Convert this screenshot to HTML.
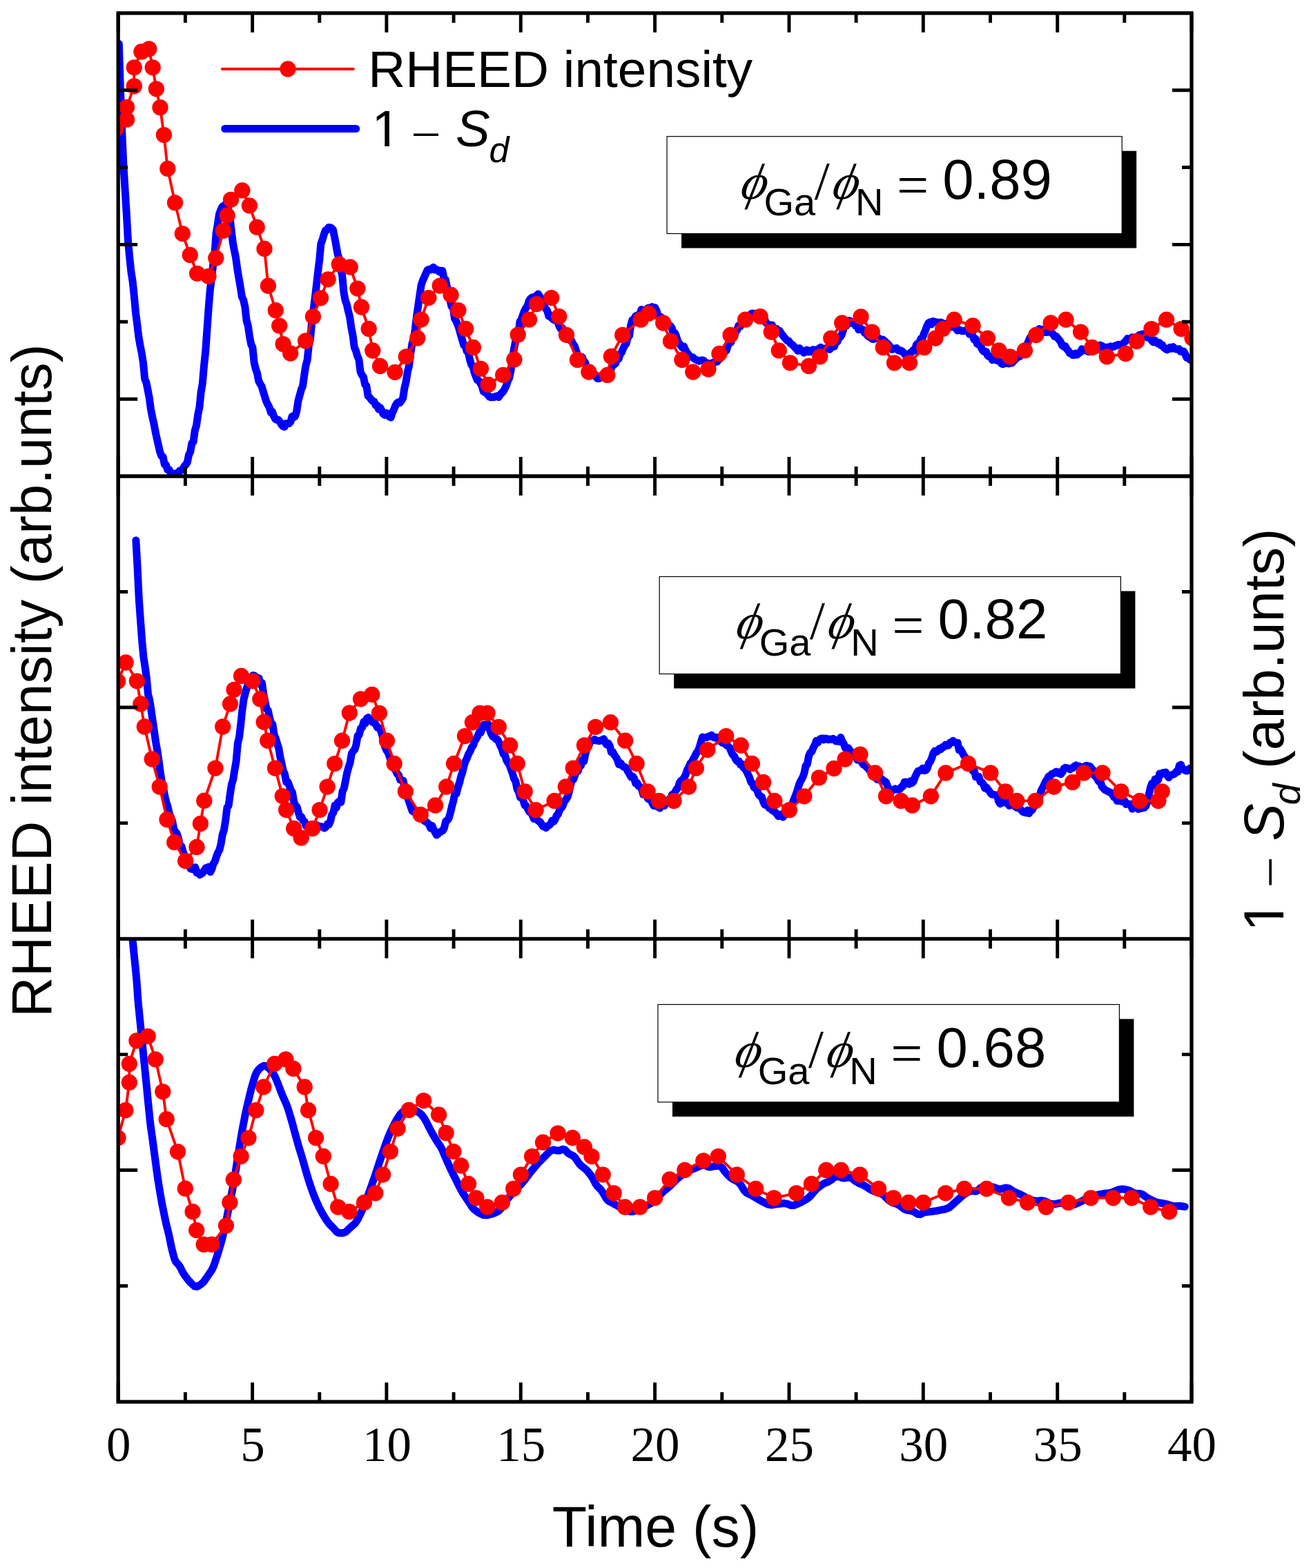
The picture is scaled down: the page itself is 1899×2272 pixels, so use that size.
<!DOCTYPE html>
<html lang="en"><head><meta charset="utf-8"><title>RHEED intensity oscillations</title>
<style>html,body{margin:0;padding:0;background:#fff}body{width:1899px;height:2272px;overflow:hidden}svg{display:block}.sans{font-family:"Liberation Sans",sans-serif}.serif{font-family:"Liberation Serif",serif}.it{font-style:italic}</style></head><body>
<svg width="1899" height="2272" viewBox="0 0 1899 2272">
<rect width="1899" height="2272" fill="#fff"/>
<defs>
<clipPath id="c1"><rect x="171.2" y="19" width="1554.8" height="671"/></clipPath>
<clipPath id="c2"><rect x="171.2" y="690" width="1554.8" height="670.4"/></clipPath>
<clipPath id="c3"><rect x="171.2" y="1360.4" width="1554.8" height="670.8"/></clipPath>
<clipPath id="k1"><rect x="533.6" y="137.5" width="62.4" height="67.9"/><rect x="557.3" y="204.9" width="6.8" height="9.6"/></clipPath>
<clipPath id="k2"><rect x="0.2" y="-81.5" width="67" height="74.1"/><rect x="25.6" y="-7.9" width="7.4" height="10.1"/></clipPath>
</defs>
<g clip-path="url(#c1)">
<polyline points="172.3,63.5 174.5,132.7 176.7,189.5 178.9,239.4 181.1,274.8 183.3,309.8 185.5,349.5 187.7,372.6 189.9,393.7 192.1,407.6 194.3,428.5 196.5,453 198.7,469.8 200.9,488.3 203.1,501 205.3,511.8 207.5,525.8 209.7,549.1 211.9,554.2 214.1,565.2 216.3,576.7 218.5,593.1 220.7,604.2 222.9,613.7 225.1,625.5 227.3,635.7 229.5,645.3 231.7,654.9 233.9,660.7 236.1,661.8 238.3,672.8 240.5,673.6 242.7,680.5 244.9,680.4 247.1,684.8 249.3,685.5 251.5,687.9 253.7,689.8 255.9,685.6 258.1,685.8 260.3,681.8 262.5,681.4 264.7,680 266.9,675.6 269.1,673.4 271.3,669.8 273.5,659.2 275.7,654.7 277.9,642 280.1,640.2 282.3,623.8 284.5,616.7 286.7,600.9 288.9,590.4 291.1,568.5 293.3,555.9 295.5,530 297.7,509.3 299.9,477.8 302.1,446.8 304.3,420.1 306.5,403.6 308.7,383.7 310.9,368.5 313.1,338 315.3,325.1 317.5,310.4 319.7,304.3 321.9,299.6 324.1,298.2 326.3,296.3 328.5,298.4 330.7,303.7 332.9,315.2 335.1,333.3 337.3,351.6 339.5,363.3 341.7,374.2 343.9,390.4 346.1,403.6 348.3,416.3 350.5,430.4 352.7,434.8 354.9,444.8 357.1,464.4 359.3,471.9 361.5,487.6 363.7,498.8 365.9,503.5 368.1,524.9 370.3,534.5 372.5,540.5 374.7,551.9 376.9,556.4 379.1,559.9 381.3,567.5 383.5,574.5 385.7,581.6 387.9,586.1 390.1,590.2 392.3,597.3 394.5,596.9 396.7,603.3 398.9,607.5 401.1,608.4 403.3,608.2 405.5,611.6 407.7,615.3 409.9,617.7 412.1,618.5 414.3,613.6 416.5,613.9 418.7,613.6 420.9,611.3 423.1,603.2 425.3,604.8 427.5,603.2 429.7,596 431.9,581 434.1,573 436.3,564.6 438.5,559.8 440.7,543.9 442.9,529.7 445.1,521.6 447.3,501 449.5,491.3 451.7,466 453.9,450.3 456.1,433.3 458.3,414 460.5,394.5 462.7,376.6 464.9,353 467.1,347.3 469.3,339.6 471.5,333.6 473.7,333.3 475.9,329.6 478.1,329.4 480.3,330.4 482.5,333.2 484.7,344 486.9,355.7 489.1,368.1 491.3,375 493.5,389 495.7,399.2 497.9,423 500.1,435.1 502.3,441 504.5,451 506.7,459.6 508.9,475 511.1,486.1 513.3,503.3 515.5,508.2 517.7,516 519.9,521 522.1,538.7 524.3,543.6 526.5,546.3 528.7,557.1 530.9,559.4 533.1,573.8 535.3,575.7 537.5,578.6 539.7,581.1 541.9,581.8 544.1,587.3 546.3,587.2 548.5,592.9 550.7,590.6 552.9,594.8 555.1,599.7 557.3,601.4 559.5,598.5 561.7,599.2 563.9,603.8 566.1,605 568.3,598.3 570.5,593.5 572.7,588.1 574.9,584.1 577.1,582.7 579.3,583.6 581.5,580.5 583.7,576.9 585.9,562.2 588.1,553.3 590.3,539.3 592.5,530.1 594.7,512.8 596.9,498 599.1,491.4 601.3,477.5 603.5,458.6 605.7,443.4 607.9,428.2 610.1,413.3 612.3,406.6 614.5,401.9 616.7,396.7 618.9,391.7 621.1,390.3 623.3,391 625.5,389.6 627.7,387.2 629.9,391 632.1,390.3 634.3,391.9 636.5,393.9 638.7,392.1 640.9,392.5 643.1,403.3 645.3,405.2 647.5,415.6 649.7,422.9 651.9,435.2 654.1,444.1 656.3,445 658.5,461.5 660.7,465 662.9,470.3 665.1,476.5 667.3,484.7 669.5,492.3 671.7,500 673.9,500.8 676.1,508.7 678.3,510.7 680.5,520.9 682.7,528.3 684.9,531.2 687.1,539.6 689.3,545.6 691.5,551 693.7,551.5 695.9,555.4 698.1,559.5 700.3,567.3 702.5,568.8 704.7,569.4 706.9,572.6 709.1,575 711.3,575.7 713.5,575.4 715.7,575.5 717.9,574.5 720.1,573.7 722.3,575.5 724.5,572 726.7,569.5 728.9,567.3 731.1,563.4 733.3,559 735.5,552 737.7,547.9 739.9,537.1 742.1,521.6 744.3,507.1 746.5,495.8 748.7,486.7 750.9,483.2 753.1,465.8 755.3,462.6 757.5,456 759.7,450.2 761.9,446.2 764.1,443.2 766.3,435.9 768.5,432.7 770.7,431 772.9,430.6 775.1,431 777.3,428 779.5,426 781.7,429.3 783.9,433.1 786.1,436.2 788.3,444.3 790.5,447.1 792.7,450.3 794.9,458.1 797.1,456.5 799.3,461 801.5,463.2 803.7,461.6 805.9,463.8 808.1,467.2 810.3,473.2 812.5,476.8 814.7,475.3 816.9,482.1 819.1,482.5 821.3,485.9 823.5,489.1 825.7,492.9 827.9,493.6 830.1,498.6 832.3,501.6 834.5,508.1 836.7,514.5 838.9,518.1 841.1,516.7 843.3,517.4 845.5,523 847.7,525.2 849.9,533.6 852.1,534.1 854.3,534.9 856.5,540.9 858.7,543.1 860.9,541.8 863.1,545.8 865.3,548.5 867.5,548.5 869.7,547.4 871.9,545.4 874.1,544.9 876.3,542.5 878.5,539.9 880.7,541.5 882.9,537.3 885.1,535 887.3,529.3 889.5,528.4 891.7,526.7 893.9,519.4 896.1,520.1 898.3,513.1 900.5,510.5 902.7,505 904.9,500.8 907.1,497.9 909.3,489.6 911.5,486.6 913.7,471.4 915.9,463.8 918.1,464 920.3,458.4 922.5,457 924.7,456.5 926.9,454.5 929.1,448.4 931.3,450.7 933.5,451.7 935.7,449.7 937.9,446.7 940.1,445.9 942.3,446 944.5,444.6 946.7,445.5 948.9,445.8 951.1,450.3 953.3,457.4 955.5,458.9 957.7,459.3 959.9,465.6 962.1,464.4 964.3,467.5 966.5,469.8 968.7,471.2 970.9,472 973.1,474.9 975.3,483.5 977.5,482.3 979.7,487.7 981.9,494.6 984.1,497.7 986.3,500.8 988.5,504 990.7,502.1 992.9,507.1 995.1,511.1 997.3,513.5 999.5,516.7 1001.7,517.3 1003.9,518 1006.1,520.3 1008.3,521.3 1010.5,522.2 1012.7,523.2 1014.9,522.2 1017.1,521.9 1019.3,522.3 1021.5,525.4 1023.7,526.2 1025.9,526.3 1028.1,526.7 1030.3,527 1032.5,525.5 1034.7,525.9 1036.9,523.1 1039.1,523.8 1041.3,519.9 1043.5,519.5 1045.7,514.1 1047.9,511.9 1050.1,509.5 1052.3,507.8 1054.5,500.4 1056.7,496.7 1058.9,496.1 1061.1,488.4 1063.3,487.3 1065.5,481.3 1067.7,478.2 1069.9,471.6 1072.1,473.2 1074.3,468.3 1076.5,464.9 1078.7,467.2 1080.9,462.4 1083.1,462.8 1085.3,458.2 1087.5,455.2 1089.7,454 1091.9,455.4 1094.1,454.4 1096.3,456.5 1098.5,457.9 1100.7,457.2 1102.9,460.1 1105.1,461.2 1107.3,462.1 1109.5,467.6 1111.7,469.4 1113.9,470.6 1116.1,471 1118.3,471.1 1120.5,476.7 1122.7,477.2 1124.9,476.3 1127.1,480.2 1129.3,479.4 1131.5,483.1 1133.7,485.7 1135.9,488.7 1138.1,491 1140.3,493.6 1142.5,493.9 1144.7,497.5 1146.9,498.9 1149.1,500.9 1151.3,503.2 1153.5,505.3 1155.7,508.4 1157.9,504.6 1160.1,508.3 1162.3,507.9 1164.5,511.3 1166.7,510 1168.9,506.9 1171.1,509.9 1173.3,508.4 1175.5,509.9 1177.7,506.6 1179.9,507.4 1182.1,506.8 1184.3,506.3 1186.5,505 1188.7,503.2 1190.9,506.1 1193.1,506.7 1195.3,505.4 1197.5,504.2 1199.7,505.8 1201.9,506.3 1204.1,503.3 1206.3,501.7 1208.5,502.1 1210.7,496.3 1212.9,495.3 1215.1,489.6 1217.3,488.2 1219.5,484.4 1221.7,477.4 1223.9,471.6 1226.1,471.8 1228.3,466.5 1230.5,464.6 1232.7,468.2 1234.9,466.7 1237.1,466.2 1239.3,471.9 1241.5,471.9 1243.7,477.7 1245.9,474.9 1248.1,477.6 1250.3,477.7 1252.5,482.6 1254.7,483 1256.9,486.7 1259.1,488.4 1261.3,488.9 1263.5,491.2 1265.7,491.4 1267.9,490.5 1270.1,489.5 1272.3,489.5 1274.5,491.5 1276.7,494.2 1278.9,492.1 1281.1,493.8 1283.3,496.1 1285.5,497.7 1287.7,500.1 1289.9,503.4 1292.1,506.3 1294.3,505.1 1296.5,505.1 1298.7,504.3 1300.9,507.6 1303.1,508.4 1305.3,508 1307.5,509.5 1309.7,512.4 1311.9,514.8 1314.1,513.7 1316.3,512.6 1318.5,511.3 1320.7,510.4 1322.9,507.1 1325.1,508.1 1327.3,499.7 1329.5,497.5 1331.7,497 1333.9,490.6 1336.1,490.2 1338.3,483.3 1340.5,478.6 1342.7,472.4 1344.9,468.1 1347.1,466.8 1349.3,469.9 1351.5,465.5 1353.7,466 1355.9,467 1358.1,467.1 1360.3,468.2 1362.5,467 1364.7,467.8 1366.9,470.3 1369.1,469.3 1371.3,468.7 1373.5,471.1 1375.7,471.5 1377.9,473.9 1380.1,472.9 1382.3,473.4 1384.5,475.3 1386.7,478.9 1388.9,477.6 1391.1,478.8 1393.3,479.5 1395.5,479.3 1397.7,479.5 1399.9,479.5 1402.1,477 1404.3,484.1 1406.5,484 1408.7,485.7 1410.9,492 1413.1,490.8 1415.3,498 1417.5,499.5 1419.7,499.2 1421.9,505 1424.1,508.5 1426.3,510.1 1428.5,509.5 1430.7,515.4 1432.9,516.7 1435.1,516.4 1437.3,521.7 1439.5,519.9 1441.7,520.7 1443.9,522.2 1446.1,522.8 1448.3,524.1 1450.5,526.7 1452.7,527.7 1454.9,526.4 1457.1,526.6 1459.3,524.7 1461.5,526.9 1463.7,524.9 1465.9,525.9 1468.1,523.4 1470.3,521.1 1472.5,519.3 1474.7,513.8 1476.9,516.8 1479.1,509.8 1481.3,506.3 1483.5,501.7 1485.7,502.6 1487.9,498.8 1490.1,493.6 1492.3,488.7 1494.5,487.9 1496.7,487.5 1498.9,483.5 1501.1,480.2 1503.3,478.1 1505.5,476.5 1507.7,477.9 1509.9,477.3 1512.1,478.5 1514.3,481.6 1516.5,481.4 1518.7,478 1520.9,481 1523.1,482.4 1525.3,483.8 1527.5,487.4 1529.7,487.1 1531.9,489.7 1534.1,492.3 1536.3,495.4 1538.5,500.4 1540.7,502.2 1542.9,501.3 1545.1,505.6 1547.3,507.8 1549.5,511.8 1551.7,512.3 1553.9,514.6 1556.1,514.5 1558.3,512 1560.5,513.9 1562.7,511.7 1564.9,510.4 1567.1,505.8 1569.3,507.9 1571.5,507.3 1573.7,507.6 1575.9,509.4 1578.1,509.7 1580.3,507.9 1582.5,505.7 1584.7,504.1 1586.9,505.4 1589.1,506.8 1591.3,504.1 1593.5,500.1 1595.7,501 1597.9,502.1 1600.1,504.1 1602.3,503.7 1604.5,503 1606.7,503.1 1608.9,501.8 1611.1,502.9 1613.3,502.2 1615.5,500.7 1617.7,500.9 1619.9,499.3 1622.1,499.4 1624.3,500 1626.5,497.9 1628.7,496.1 1630.9,493.8 1633.1,490.6 1635.3,491.3 1637.5,491.6 1639.7,488.8 1641.9,491.2 1644.1,488.4 1646.3,488.7 1648.5,487.1 1650.7,485.2 1652.9,489 1655.1,484 1657.3,487.8 1659.5,486.8 1661.7,489.1 1663.9,488.7 1666.1,490.3 1668.3,493.4 1670.5,495.9 1672.7,493 1674.9,495.4 1677.1,497.8 1679.3,496.6 1681.5,500.4 1683.7,499.9 1685.9,503.8 1688.1,505.3 1690.3,506.9 1692.5,505.5 1694.7,503.2 1696.9,505.3 1699.1,502.6 1701.3,504.7 1703.5,506 1705.7,505.9 1707.9,505.6 1710.1,509.5 1712.3,509.3 1714.5,509 1716.7,512.8 1718.9,518.2 1721.1,517.7 1723.3,520.8 1724,521.4" fill="none" stroke="#0000ff" stroke-width="11" stroke-linejoin="round" stroke-linecap="round"/>
<polyline points="167.6,187 183.5,173.2 183.5,155.3 194.3,124.8 194.3,97.8 204.9,74.9 215.8,70.9 221.2,97.8 226.4,128.8 232,155.7 237.4,195.6 242.8,244.4 253.5,293.7 264.3,338.6 275.3,369.5 285.6,396.3 302,400.3 312.8,374 323.5,334.2 329.1,312.2 334.5,289.3 350.9,275.9 361.4,297.9 372.2,329.2 383,360.4 388.4,414.2 399.3,449.7 404.7,472.1 410.1,498.6 420.7,512 442.6,494 453.4,458.7 464.5,431.8 475.1,404.8 491.2,383 507.2,387 517.9,418.1 523.5,445 534.2,476.5 539.8,508 550.6,530.4 572.1,539.3 588.3,516.8 604.7,489.9 610,463.1 620.8,431.6 637.2,414.1 653.1,427.2 663.9,449.6 674.7,476.5 685.4,503.4 696.4,534.3 707.2,557.3 728.7,543.3 744.9,521 750.2,485.1 766.6,463.1 777.4,440.6 798.7,431.6 809.8,458.6 820.5,485.3 836.5,521.4 852.9,539 879.8,543.4 885.4,516.4 901.7,485.5 928.2,463.2 939.6,454.2 960.7,468 971.5,494.5 987.9,521.4 1003.8,539 1026,535 1041.9,512.5 1058.1,485.5 1079.6,463.2 1101.2,458.6 1117.3,481.1 1128.3,507.9 1144.5,525.8 1171.5,530.4 1187.8,516.8 1203.8,490.1 1219.7,468 1247,459 1263.2,481.1 1279.2,503.5 1295.5,525.8 1317.4,525.8 1338.8,503.5 1354.9,490.1 1365.7,476.6 1382.1,463.2 1409.1,472 1430.4,490.1 1446.9,507.9 1463,516.8 1484.4,507.9 1500.7,485.5 1522.1,468 1544,463.2 1565.5,481.1 1581.9,503.5 1603.4,516.8 1630.4,512.5 1646.5,494.5 1667.9,476.6 1689.6,463.2 1711.1,476.6 1727,490" fill="none" stroke="#ff0000" stroke-width="3.9" stroke-linejoin="round"/>
<g fill="#ff0000"><circle cx="167.6" cy="187" r="11.65"/><circle cx="183.5" cy="173.2" r="11.65"/><circle cx="183.5" cy="155.3" r="11.65"/><circle cx="194.3" cy="124.8" r="11.65"/><circle cx="194.3" cy="97.8" r="11.65"/><circle cx="204.9" cy="74.9" r="11.65"/><circle cx="215.8" cy="70.9" r="11.65"/><circle cx="221.2" cy="97.8" r="11.65"/><circle cx="226.4" cy="128.8" r="11.65"/><circle cx="232" cy="155.7" r="11.65"/><circle cx="237.4" cy="195.6" r="11.65"/><circle cx="242.8" cy="244.4" r="11.65"/><circle cx="253.5" cy="293.7" r="11.65"/><circle cx="264.3" cy="338.6" r="11.65"/><circle cx="275.3" cy="369.5" r="11.65"/><circle cx="285.6" cy="396.3" r="11.65"/><circle cx="302" cy="400.3" r="11.65"/><circle cx="312.8" cy="374" r="11.65"/><circle cx="323.5" cy="334.2" r="11.65"/><circle cx="329.1" cy="312.2" r="11.65"/><circle cx="334.5" cy="289.3" r="11.65"/><circle cx="350.9" cy="275.9" r="11.65"/><circle cx="361.4" cy="297.9" r="11.65"/><circle cx="372.2" cy="329.2" r="11.65"/><circle cx="383" cy="360.4" r="11.65"/><circle cx="388.4" cy="414.2" r="11.65"/><circle cx="399.3" cy="449.7" r="11.65"/><circle cx="404.7" cy="472.1" r="11.65"/><circle cx="410.1" cy="498.6" r="11.65"/><circle cx="420.7" cy="512" r="11.65"/><circle cx="442.6" cy="494" r="11.65"/><circle cx="453.4" cy="458.7" r="11.65"/><circle cx="464.5" cy="431.8" r="11.65"/><circle cx="475.1" cy="404.8" r="11.65"/><circle cx="491.2" cy="383" r="11.65"/><circle cx="507.2" cy="387" r="11.65"/><circle cx="517.9" cy="418.1" r="11.65"/><circle cx="523.5" cy="445" r="11.65"/><circle cx="534.2" cy="476.5" r="11.65"/><circle cx="539.8" cy="508" r="11.65"/><circle cx="550.6" cy="530.4" r="11.65"/><circle cx="572.1" cy="539.3" r="11.65"/><circle cx="588.3" cy="516.8" r="11.65"/><circle cx="604.7" cy="489.9" r="11.65"/><circle cx="610" cy="463.1" r="11.65"/><circle cx="620.8" cy="431.6" r="11.65"/><circle cx="637.2" cy="414.1" r="11.65"/><circle cx="653.1" cy="427.2" r="11.65"/><circle cx="663.9" cy="449.6" r="11.65"/><circle cx="674.7" cy="476.5" r="11.65"/><circle cx="685.4" cy="503.4" r="11.65"/><circle cx="696.4" cy="534.3" r="11.65"/><circle cx="707.2" cy="557.3" r="11.65"/><circle cx="728.7" cy="543.3" r="11.65"/><circle cx="744.9" cy="521" r="11.65"/><circle cx="750.2" cy="485.1" r="11.65"/><circle cx="766.6" cy="463.1" r="11.65"/><circle cx="777.4" cy="440.6" r="11.65"/><circle cx="798.7" cy="431.6" r="11.65"/><circle cx="809.8" cy="458.6" r="11.65"/><circle cx="820.5" cy="485.3" r="11.65"/><circle cx="836.5" cy="521.4" r="11.65"/><circle cx="852.9" cy="539" r="11.65"/><circle cx="879.8" cy="543.4" r="11.65"/><circle cx="885.4" cy="516.4" r="11.65"/><circle cx="901.7" cy="485.5" r="11.65"/><circle cx="928.2" cy="463.2" r="11.65"/><circle cx="939.6" cy="454.2" r="11.65"/><circle cx="960.7" cy="468" r="11.65"/><circle cx="971.5" cy="494.5" r="11.65"/><circle cx="987.9" cy="521.4" r="11.65"/><circle cx="1003.8" cy="539" r="11.65"/><circle cx="1026" cy="535" r="11.65"/><circle cx="1041.9" cy="512.5" r="11.65"/><circle cx="1058.1" cy="485.5" r="11.65"/><circle cx="1079.6" cy="463.2" r="11.65"/><circle cx="1101.2" cy="458.6" r="11.65"/><circle cx="1117.3" cy="481.1" r="11.65"/><circle cx="1128.3" cy="507.9" r="11.65"/><circle cx="1144.5" cy="525.8" r="11.65"/><circle cx="1171.5" cy="530.4" r="11.65"/><circle cx="1187.8" cy="516.8" r="11.65"/><circle cx="1203.8" cy="490.1" r="11.65"/><circle cx="1219.7" cy="468" r="11.65"/><circle cx="1247" cy="459" r="11.65"/><circle cx="1263.2" cy="481.1" r="11.65"/><circle cx="1279.2" cy="503.5" r="11.65"/><circle cx="1295.5" cy="525.8" r="11.65"/><circle cx="1317.4" cy="525.8" r="11.65"/><circle cx="1338.8" cy="503.5" r="11.65"/><circle cx="1354.9" cy="490.1" r="11.65"/><circle cx="1365.7" cy="476.6" r="11.65"/><circle cx="1382.1" cy="463.2" r="11.65"/><circle cx="1409.1" cy="472" r="11.65"/><circle cx="1430.4" cy="490.1" r="11.65"/><circle cx="1446.9" cy="507.9" r="11.65"/><circle cx="1463" cy="516.8" r="11.65"/><circle cx="1484.4" cy="507.9" r="11.65"/><circle cx="1500.7" cy="485.5" r="11.65"/><circle cx="1522.1" cy="468" r="11.65"/><circle cx="1544" cy="463.2" r="11.65"/><circle cx="1565.5" cy="481.1" r="11.65"/><circle cx="1581.9" cy="503.5" r="11.65"/><circle cx="1603.4" cy="516.8" r="11.65"/><circle cx="1630.4" cy="512.5" r="11.65"/><circle cx="1646.5" cy="494.5" r="11.65"/><circle cx="1667.9" cy="476.6" r="11.65"/><circle cx="1689.6" cy="463.2" r="11.65"/><circle cx="1711.1" cy="476.6" r="11.65"/><circle cx="1727" cy="490" r="11.65"/></g>
</g>
<g clip-path="url(#c2)">
<polyline points="196.9,782.9 199.1,822.3 201.3,867.9 203.5,898.6 205.7,928.3 207.9,951.7 210.1,966.4 212.3,982.1 214.5,1006.1 216.7,1014.5 218.9,1028 221.1,1043.7 223.3,1058.9 225.5,1074.4 227.7,1086.7 229.9,1101.1 232.1,1118.2 234.3,1132.4 236.5,1140.3 238.7,1153.4 240.9,1162.3 243.1,1169.2 245.3,1179.2 247.5,1184 249.7,1190.1 251.9,1202 254.1,1205.1 256.3,1208.1 258.5,1214.8 260.7,1225.7 262.9,1226.1 265.1,1234 267.3,1239.5 269.5,1245 271.7,1250.8 273.9,1253.7 276.1,1259 278.3,1259.5 280.5,1257 282.7,1256.7 284.9,1264.5 287.1,1264.3 289.3,1267.5 291.5,1266.4 293.7,1264.8 295.9,1261.3 298.1,1257.6 300.3,1257.1 302.5,1256 304.7,1263.5 306.9,1259.1 309.1,1251.5 311.3,1248.1 313.5,1241 315.7,1235.4 317.9,1231.6 320.1,1222.5 322.3,1209.2 324.5,1202.5 326.7,1188.6 328.9,1170.3 331.1,1167.4 333.3,1150.7 335.5,1136.7 337.7,1129.6 339.9,1115.6 342.1,1103.1 344.3,1077.6 346.5,1068.3 348.7,1049.8 350.9,1029 353.1,1013 355.3,1004.5 357.5,996.8 359.7,989.6 361.9,981.5 364.1,982 366.3,978.5 368.5,979.1 370.7,981 372.9,984.2 375.1,982.7 377.3,992 379.5,989.6 381.7,1005.3 383.9,1016.4 386.1,1027.3 388.3,1029.4 390.5,1040.4 392.7,1047.5 394.9,1049.7 397.1,1064.5 399.3,1069.9 401.5,1077.4 403.7,1083.8 405.9,1097.1 408.1,1106.7 410.3,1116.8 412.5,1121.5 414.7,1133.2 416.9,1132.9 419.1,1138.7 421.3,1144.6 423.5,1148.3 425.7,1161.7 427.9,1167 430.1,1169 432.3,1177 434.5,1184.2 436.7,1183.7 438.9,1188.8 441.1,1190.6 443.3,1197.1 445.5,1196.2 447.7,1195.4 449.9,1195.5 452.1,1199 454.3,1196.2 456.5,1200 458.7,1195.4 460.9,1197.6 463.1,1197.8 465.3,1197.5 467.5,1198.5 469.7,1200 471.9,1198.5 474.1,1194.2 476.3,1195 478.5,1190.2 480.7,1180.4 482.9,1177.5 485.1,1166.9 487.3,1170.3 489.5,1162.6 491.7,1160.8 493.9,1162.4 496.1,1146.6 498.3,1142.5 500.5,1131.1 502.7,1119.9 504.9,1111.7 507.1,1105.4 509.3,1091.9 511.5,1088.4 513.7,1086.2 515.9,1079.4 518.1,1066.2 520.3,1064.8 522.5,1055.3 524.7,1054.1 526.9,1045.8 529.1,1048.4 531.3,1041.2 533.5,1039.5 535.7,1042.9 537.9,1044.3 540.1,1046.6 542.3,1046.8 544.5,1049.9 546.7,1054.3 548.9,1054.6 551.1,1057.5 553.3,1063.9 555.5,1074.1 557.7,1082.2 559.9,1087.2 562.1,1090.3 564.3,1096.6 566.5,1103 568.7,1104.1 570.9,1113.4 573.1,1116.2 575.3,1121.3 577.5,1123.1 579.7,1130 581.9,1130.9 584.1,1131.2 586.3,1142.3 588.5,1145.3 590.7,1156.5 592.9,1162.7 595.1,1169.3 597.3,1175.3 599.5,1176.4 601.7,1178.1 603.9,1181.7 606.1,1185.2 608.3,1185.8 610.5,1186.7 612.7,1187.1 614.9,1189.8 617.1,1190.5 619.3,1192.6 621.5,1194.4 623.7,1200.1 625.9,1196.4 628.1,1201.9 630.3,1206.1 632.5,1209.9 634.7,1208.3 636.9,1205.7 639.1,1204.7 641.3,1203.5 643.5,1199.5 645.7,1189.9 647.9,1188.7 650.1,1185.8 652.3,1178.3 654.5,1168.6 656.7,1160.7 658.9,1150.2 661.1,1149.9 663.3,1140.8 665.5,1134.4 667.7,1125.2 669.9,1119.1 672.1,1109.6 674.3,1102.9 676.5,1098.5 678.7,1092.4 680.9,1088.9 683.1,1083.2 685.3,1080.4 687.5,1073.9 689.7,1070.7 691.9,1066.7 694.1,1061.2 696.3,1061.5 698.5,1055.1 700.7,1049.9 702.9,1053 705.1,1051.4 707.3,1049 709.5,1057.6 711.7,1063.6 713.9,1067.4 716.1,1066.5 718.3,1071 720.5,1071.2 722.7,1075.6 724.9,1080.9 727.1,1085.4 729.3,1092.7 731.5,1094.4 733.7,1101.7 735.9,1105.3 738.1,1108.6 740.3,1115.2 742.5,1121.2 744.7,1128.6 746.9,1131.9 749.1,1143.4 751.3,1147.2 753.5,1155.4 755.7,1155.8 757.9,1159.6 760.1,1167 762.3,1167.6 764.5,1172 766.7,1176.4 768.9,1174.8 771.1,1181.2 773.3,1186.5 775.5,1186.5 777.7,1187.1 779.9,1189.6 782.1,1190.5 784.3,1193.9 786.5,1197.4 788.7,1197.3 790.9,1199.5 793.1,1197.1 795.3,1195.8 797.5,1193.9 799.7,1188.9 801.9,1190.4 804.1,1187.4 806.3,1181.5 808.5,1179.8 810.7,1173 812.9,1171 815.1,1167.8 817.3,1161.4 819.5,1159 821.7,1155.6 823.9,1149.1 826.1,1139.2 828.3,1130.5 830.5,1129.5 832.7,1123.5 834.9,1118 837.1,1117.5 839.3,1110.5 841.5,1109.3 843.7,1101.2 845.9,1103 848.1,1092 850.3,1084.2 852.5,1081.6 854.7,1075.8 856.9,1073.5 859.1,1073 861.3,1071.3 863.5,1073 865.7,1073.2 867.9,1073.8 870.1,1072.8 872.3,1072 874.5,1070.7 876.7,1076 878.9,1079 881.1,1077 883.3,1080.7 885.5,1090 887.7,1089.6 889.9,1094.1 892.1,1096.9 894.3,1100.9 896.5,1107.7 898.7,1105.4 900.9,1108.9 903.1,1111 905.3,1111.4 907.5,1113.9 909.7,1118.1 911.9,1121.8 914.1,1125.8 916.3,1124.9 918.5,1127.7 920.7,1135.2 922.9,1134.4 925.1,1139.1 927.3,1140.2 929.5,1143 931.7,1151.2 933.9,1148.2 936.1,1151.5 938.3,1157 940.5,1158.6 942.7,1158.4 944.9,1164 947.1,1167.6 949.3,1166.4 951.5,1168.3 953.7,1169.7 955.9,1170.9 958.1,1165.1 960.3,1166.8 962.5,1167.4 964.7,1163 966.9,1160.2 969.1,1158.2 971.3,1157.1 973.5,1151.4 975.7,1151.3 977.9,1147.4 980.1,1143.6 982.3,1141 984.5,1133.7 986.7,1131.1 988.9,1129.6 991.1,1126.6 993.3,1122.2 995.5,1115.6 997.7,1111.6 999.9,1106.3 1002.1,1104.2 1004.3,1099.7 1006.5,1096 1008.7,1091.1 1010.9,1088.6 1013.1,1083.1 1015.3,1075.2 1017.5,1068 1019.7,1068.8 1021.9,1068.7 1024.1,1068.6 1026.3,1067 1028.5,1067.1 1030.7,1065.3 1032.9,1068 1035.1,1069 1037.3,1068.3 1039.5,1068.6 1041.7,1073.5 1043.9,1071.8 1046.1,1076.2 1048.3,1076.4 1050.5,1078.1 1052.7,1080 1054.9,1081.4 1057.1,1083.8 1059.3,1089.5 1061.5,1093.9 1063.7,1095.6 1065.9,1100.8 1068.1,1103.2 1070.3,1102.9 1072.5,1108.2 1074.7,1107.2 1076.9,1112.2 1079.1,1113.5 1081.3,1117.5 1083.5,1122.2 1085.7,1126.7 1087.9,1133.7 1090.1,1135 1092.3,1141.1 1094.5,1142.4 1096.7,1145.3 1098.9,1151.3 1101.1,1153.6 1103.3,1154.6 1105.5,1161 1107.7,1166.2 1109.9,1166.7 1112.1,1167.9 1114.3,1171 1116.5,1171.6 1118.7,1174.4 1120.9,1174.6 1123.1,1177.2 1125.3,1179.3 1127.5,1182.7 1129.7,1180.5 1131.9,1179.9 1134.1,1184 1136.3,1180.9 1138.5,1178.4 1140.7,1177.7 1142.9,1170.8 1145.1,1167.8 1147.3,1165.7 1149.5,1159.6 1151.7,1154.4 1153.9,1148.5 1156.1,1141.2 1158.3,1134.6 1160.5,1130.4 1162.7,1126.4 1164.9,1120.4 1167.1,1109.7 1169.3,1107.5 1171.5,1095.5 1173.7,1090.6 1175.9,1088.9 1178.1,1083.4 1180.3,1079.4 1182.5,1073.3 1184.7,1076 1186.9,1071.9 1189.1,1070.2 1191.3,1069.8 1193.5,1072 1195.7,1070 1197.9,1070.4 1200.1,1071.8 1202.3,1071 1204.5,1071.4 1206.7,1070.3 1208.9,1071.8 1211.1,1074.1 1213.3,1073.9 1215.5,1074.6 1217.7,1068.5 1219.9,1074 1222.1,1077.4 1224.3,1083.7 1226.5,1083.5 1228.7,1083.7 1230.9,1087.1 1233.1,1090.2 1235.3,1091.7 1237.5,1090.6 1239.7,1095.6 1241.9,1101.1 1244.1,1099 1246.3,1101.8 1248.5,1104.9 1250.7,1108.2 1252.9,1108 1255.1,1111.4 1257.3,1113.2 1259.5,1116.5 1261.7,1116.5 1263.9,1117.3 1266.1,1119.9 1268.3,1126.2 1270.5,1129.3 1272.7,1129.7 1274.9,1127.8 1277.1,1128.7 1279.3,1131.9 1281.5,1131.7 1283.7,1133.8 1285.9,1140 1288.1,1143.5 1290.3,1146.7 1292.5,1145.9 1294.7,1144 1296.9,1142.8 1299.1,1143.9 1301.3,1143.7 1303.5,1143.6 1305.7,1140.2 1307.9,1139.5 1310.1,1133.2 1312.3,1132.9 1314.5,1135.1 1316.7,1136.2 1318.9,1131.7 1321.1,1134.5 1323.3,1132.2 1325.5,1125.6 1327.7,1121.2 1329.9,1117.1 1332.1,1116.7 1334.3,1116.3 1336.5,1113.3 1338.7,1116.6 1340.9,1116.2 1343.1,1113.6 1345.3,1106.1 1347.5,1103.5 1349.7,1098.4 1351.9,1091.4 1354.1,1088.2 1356.3,1089.4 1358.5,1087.9 1360.7,1084.8 1362.9,1085.6 1365.1,1082.5 1367.3,1082.5 1369.5,1079.2 1371.7,1080.3 1373.9,1080.1 1376.1,1076 1378.3,1075.6 1380.5,1073.3 1382.7,1075.8 1384.9,1076.2 1387.1,1076.2 1389.3,1086.9 1391.5,1085.8 1393.7,1089.8 1395.9,1094.4 1398.1,1097.2 1400.3,1099.2 1402.5,1102 1404.7,1107.6 1406.9,1113.1 1409.1,1116.9 1411.3,1117 1413.5,1125.8 1415.7,1125.9 1417.9,1125.6 1420.1,1132.9 1422.3,1133.5 1424.5,1136.5 1426.7,1142.2 1428.9,1141 1431.1,1144.1 1433.3,1146.7 1435.5,1150.1 1437.7,1151.3 1439.9,1151.4 1442.1,1152.2 1444.3,1152 1446.5,1161.1 1448.7,1164.7 1450.9,1162.7 1453.1,1162.7 1455.3,1162.1 1457.5,1163.6 1459.7,1161.9 1461.9,1167.5 1464.1,1165.4 1466.3,1165.7 1468.5,1165.6 1470.7,1168.9 1472.9,1170.3 1475.1,1169.4 1477.3,1172 1479.5,1173.8 1481.7,1176.3 1483.9,1177.1 1486.1,1177.7 1488.3,1174.1 1490.5,1178.6 1492.7,1174.9 1494.9,1174 1497.1,1169.9 1499.3,1167.4 1501.5,1162.9 1503.7,1160.8 1505.9,1154.1 1508.1,1145.2 1510.3,1141.5 1512.5,1136.9 1514.7,1132.2 1516.9,1129.1 1519.1,1124.7 1521.3,1124.4 1523.5,1121.4 1525.7,1121 1527.9,1119.3 1530.1,1118.1 1532.3,1120.1 1534.5,1119 1536.7,1121.7 1538.9,1118.9 1541.1,1113.5 1543.3,1112.2 1545.5,1112.8 1547.7,1113.3 1549.9,1114.9 1552.1,1112.9 1554.3,1112.5 1556.5,1110 1558.7,1108.8 1560.9,1110.9 1563.1,1110.2 1565.3,1114 1567.5,1111.7 1569.7,1111.2 1571.9,1110 1574.1,1109.2 1576.3,1111.8 1578.5,1110.1 1580.7,1113.1 1582.9,1115.2 1585.1,1123.7 1587.3,1125 1589.5,1128.8 1591.7,1132.6 1593.9,1131.7 1596.1,1139.8 1598.3,1142 1600.5,1144.5 1602.7,1145.5 1604.9,1146.6 1607.1,1147.9 1609.3,1148.5 1611.5,1151.4 1613.7,1155.3 1615.9,1153.1 1618.1,1160.5 1620.3,1160.6 1622.5,1158.8 1624.7,1161.2 1626.9,1161.4 1629.1,1160.7 1631.3,1165.3 1633.5,1164.5 1635.7,1165.6 1637.9,1165.3 1640.1,1172.1 1642.3,1170.6 1644.5,1170.5 1646.7,1169.6 1648.9,1172.4 1651.1,1169.3 1653.3,1171.3 1655.5,1170.5 1657.7,1170.3 1659.9,1167.6 1662.1,1161.4 1664.3,1151 1666.5,1140.9 1668.7,1134.9 1670.9,1138.1 1673.1,1129 1675.3,1131.8 1677.5,1130.4 1679.7,1120.9 1681.9,1122.5 1684.1,1119.8 1686.3,1119.5 1688.5,1119.1 1690.7,1123.4 1692.9,1126.6 1695.1,1123.4 1697.3,1122.8 1699.5,1122.2 1701.7,1120.9 1703.9,1118 1706.1,1118.1 1708.3,1109.2 1710.5,1108 1712.7,1114.5 1714.9,1114.5 1717.1,1116.7 1719.3,1116.9 1721.5,1116.4 1723.7,1113.3 1724.1,1113.5" fill="none" stroke="#0000ff" stroke-width="11" stroke-linejoin="round" stroke-linecap="round"/>
<polyline points="170.6,987.3 182.2,960 198.3,986.8 203.9,1019.9 209.3,1053 220.2,1100 231.2,1140.1 242,1187.5 252.7,1220.4 268.7,1247.4 285,1227.4 290.4,1193.5 295.8,1160.2 312,1113.1 322.7,1053 333.5,1019.9 339.1,999.3 349.5,979.4 365.8,986.8 376.8,1012.9 382.2,1046.2 387.8,1073.2 398.5,1113.1 409.3,1153.6 414.7,1173.6 425.7,1200.5 436.2,1213.9 452.6,1200.5 463.1,1173.6 474.1,1140.1 484.8,1106.6 495.5,1073.2 506.3,1033.1 522.5,1012.8 538.8,1006.4 549.4,1033.3 560.4,1073.2 571.1,1106.5 587.3,1146.8 609.2,1180.3 630.6,1166.9 646.7,1140 657.5,1106.5 673.5,1066.6 684.4,1046.7 695,1033.3 706,1033.3 722.3,1053.3 738.7,1080 749.2,1106.5 760.2,1146.8 776.2,1173.7 803.1,1160.4 819.4,1140 830.2,1113.1 846.5,1080 862.6,1053.3 884.4,1046.7 905.7,1073.2 922.1,1106.5 938.2,1146.8 954.6,1160.4 976.1,1160.4 997.5,1140 1008.4,1113.1 1024.8,1086.6 1051.7,1066.6 1073.2,1080 1089.4,1106.5 1105.6,1133.4 1121.9,1160.4 1143.4,1173.7 1164.9,1153.8 1186.4,1126.8 1208,1113.5 1224.1,1100.1 1246,1093.1 1267.6,1119.9 1283.5,1153.8 1305.1,1160.4 1321.4,1166.9 1348.4,1153.8 1369.9,1119.9 1402.5,1106.5 1434.8,1119.9 1456.4,1146.8 1472.8,1160.4 1499.7,1160.4 1526.6,1140 1553.6,1133.4 1569.9,1119.9 1597,1119.9 1623.8,1146.8 1650.9,1160.4 1677.8,1160.4 1683.2,1146.8" fill="none" stroke="#ff0000" stroke-width="3.9" stroke-linejoin="round"/>
<g fill="#ff0000"><circle cx="170.6" cy="987.3" r="11.65"/><circle cx="182.2" cy="960" r="11.65"/><circle cx="198.3" cy="986.8" r="11.65"/><circle cx="203.9" cy="1019.9" r="11.65"/><circle cx="209.3" cy="1053" r="11.65"/><circle cx="220.2" cy="1100" r="11.65"/><circle cx="231.2" cy="1140.1" r="11.65"/><circle cx="242" cy="1187.5" r="11.65"/><circle cx="252.7" cy="1220.4" r="11.65"/><circle cx="268.7" cy="1247.4" r="11.65"/><circle cx="285" cy="1227.4" r="11.65"/><circle cx="290.4" cy="1193.5" r="11.65"/><circle cx="295.8" cy="1160.2" r="11.65"/><circle cx="312" cy="1113.1" r="11.65"/><circle cx="322.7" cy="1053" r="11.65"/><circle cx="333.5" cy="1019.9" r="11.65"/><circle cx="339.1" cy="999.3" r="11.65"/><circle cx="349.5" cy="979.4" r="11.65"/><circle cx="365.8" cy="986.8" r="11.65"/><circle cx="376.8" cy="1012.9" r="11.65"/><circle cx="382.2" cy="1046.2" r="11.65"/><circle cx="387.8" cy="1073.2" r="11.65"/><circle cx="398.5" cy="1113.1" r="11.65"/><circle cx="409.3" cy="1153.6" r="11.65"/><circle cx="414.7" cy="1173.6" r="11.65"/><circle cx="425.7" cy="1200.5" r="11.65"/><circle cx="436.2" cy="1213.9" r="11.65"/><circle cx="452.6" cy="1200.5" r="11.65"/><circle cx="463.1" cy="1173.6" r="11.65"/><circle cx="474.1" cy="1140.1" r="11.65"/><circle cx="484.8" cy="1106.6" r="11.65"/><circle cx="495.5" cy="1073.2" r="11.65"/><circle cx="506.3" cy="1033.1" r="11.65"/><circle cx="522.5" cy="1012.8" r="11.65"/><circle cx="538.8" cy="1006.4" r="11.65"/><circle cx="549.4" cy="1033.3" r="11.65"/><circle cx="560.4" cy="1073.2" r="11.65"/><circle cx="571.1" cy="1106.5" r="11.65"/><circle cx="587.3" cy="1146.8" r="11.65"/><circle cx="609.2" cy="1180.3" r="11.65"/><circle cx="630.6" cy="1166.9" r="11.65"/><circle cx="646.7" cy="1140" r="11.65"/><circle cx="657.5" cy="1106.5" r="11.65"/><circle cx="673.5" cy="1066.6" r="11.65"/><circle cx="684.4" cy="1046.7" r="11.65"/><circle cx="695" cy="1033.3" r="11.65"/><circle cx="706" cy="1033.3" r="11.65"/><circle cx="722.3" cy="1053.3" r="11.65"/><circle cx="738.7" cy="1080" r="11.65"/><circle cx="749.2" cy="1106.5" r="11.65"/><circle cx="760.2" cy="1146.8" r="11.65"/><circle cx="776.2" cy="1173.7" r="11.65"/><circle cx="803.1" cy="1160.4" r="11.65"/><circle cx="819.4" cy="1140" r="11.65"/><circle cx="830.2" cy="1113.1" r="11.65"/><circle cx="846.5" cy="1080" r="11.65"/><circle cx="862.6" cy="1053.3" r="11.65"/><circle cx="884.4" cy="1046.7" r="11.65"/><circle cx="905.7" cy="1073.2" r="11.65"/><circle cx="922.1" cy="1106.5" r="11.65"/><circle cx="938.2" cy="1146.8" r="11.65"/><circle cx="954.6" cy="1160.4" r="11.65"/><circle cx="976.1" cy="1160.4" r="11.65"/><circle cx="997.5" cy="1140" r="11.65"/><circle cx="1008.4" cy="1113.1" r="11.65"/><circle cx="1024.8" cy="1086.6" r="11.65"/><circle cx="1051.7" cy="1066.6" r="11.65"/><circle cx="1073.2" cy="1080" r="11.65"/><circle cx="1089.4" cy="1106.5" r="11.65"/><circle cx="1105.6" cy="1133.4" r="11.65"/><circle cx="1121.9" cy="1160.4" r="11.65"/><circle cx="1143.4" cy="1173.7" r="11.65"/><circle cx="1164.9" cy="1153.8" r="11.65"/><circle cx="1186.4" cy="1126.8" r="11.65"/><circle cx="1208" cy="1113.5" r="11.65"/><circle cx="1224.1" cy="1100.1" r="11.65"/><circle cx="1246" cy="1093.1" r="11.65"/><circle cx="1267.6" cy="1119.9" r="11.65"/><circle cx="1283.5" cy="1153.8" r="11.65"/><circle cx="1305.1" cy="1160.4" r="11.65"/><circle cx="1321.4" cy="1166.9" r="11.65"/><circle cx="1348.4" cy="1153.8" r="11.65"/><circle cx="1369.9" cy="1119.9" r="11.65"/><circle cx="1402.5" cy="1106.5" r="11.65"/><circle cx="1434.8" cy="1119.9" r="11.65"/><circle cx="1456.4" cy="1146.8" r="11.65"/><circle cx="1472.8" cy="1160.4" r="11.65"/><circle cx="1499.7" cy="1160.4" r="11.65"/><circle cx="1526.6" cy="1140" r="11.65"/><circle cx="1553.6" cy="1133.4" r="11.65"/><circle cx="1569.9" cy="1119.9" r="11.65"/><circle cx="1597" cy="1119.9" r="11.65"/><circle cx="1623.8" cy="1146.8" r="11.65"/><circle cx="1650.9" cy="1160.4" r="11.65"/><circle cx="1677.8" cy="1160.4" r="11.65"/><circle cx="1683.2" cy="1146.8" r="11.65"/></g>
</g>
<g clip-path="url(#c3)">
<polyline points="191.5,1355 191.6,1356 191.8,1359 192.5,1366 194.3,1383.9 195.5,1395.9 197.3,1413.8 198.3,1425.8 199.5,1443.7 200.5,1455.7 202.3,1473.7 203.5,1485.7 205.3,1503.6 206.5,1515.6 208.3,1533.5 209.5,1545.5 211.3,1563.4 212.5,1575.4 214.2,1593.3 215.4,1605.3 217.2,1623.2 218.4,1633.4 220.2,1645.8 221.6,1656 224,1673.9 225.6,1685.9 228,1703.8 229.8,1715.8 232.8,1733.7 235,1745.7 238.6,1763.7 240.8,1773.7 243.8,1785.6 245.6,1793.6 248,1805.6 249.8,1813.2 252.7,1823.9 254.9,1828.7 258.5,1832.3 260.9,1835.9 264.5,1843.1 267.5,1847.9 272.9,1855 276.5,1859 281.9,1863.8 285.7,1864.2 291.6,1860.6 295,1857.4 299.2,1851.4 302.2,1847 307,1839.9 309.8,1833.9 313.4,1823.1 315.8,1815.5 319.4,1803.6 321.6,1795.6 324.5,1783.6 326.3,1775.6 328.7,1763.7 330.3,1755.7 332.7,1743.7 334.3,1735.7 336.7,1723.8 338.3,1715 340.7,1700.7 342.3,1690.7 344.7,1675.1 346.5,1663.8 349.5,1645.3 351.7,1633.2 355.2,1615.3 357.8,1603.3 362,1585.4 364.8,1574.6 369,1560.3 371.6,1553.9 375.2,1549.1 377.8,1546.7 382,1544.3 384.7,1544.4 388.7,1547.1 391.5,1549.9 395.8,1555.5 398.3,1559.8 401.3,1567 403.5,1572.6 407.1,1582.2 409.9,1589 414.7,1599.7 417.5,1607.3 421.1,1619.3 423.5,1627.7 427,1640.8 429.2,1648.8 432.2,1659.5 434.2,1666.3 437.2,1675.9 439.2,1682.7 442.2,1693.4 444.2,1700.4 447.2,1710.4 449.6,1717.8 453.8,1729.8 457,1737.8 462.4,1749.7 466.4,1757.3 472.9,1768.1 476.7,1773.3 481.5,1778 484.3,1781 487.9,1785.2 491.1,1786.6 497.1,1786.6 500.9,1784.9 506.1,1780 509.5,1776.9 514.3,1772.7 517.5,1768.1 522.3,1758.6 525.5,1751.4 530.3,1739.4 533.5,1731 538.2,1717.9 541.4,1708.7 546.2,1694.4 549.4,1684.8 554.2,1670.4 557.4,1661.2 562.2,1648.1 565.8,1639.7 571.7,1627.7 575.3,1621.3 580.1,1614.2 583.7,1610.6 589.7,1607 593.7,1606.4 599.7,1608.2 603.3,1609.8 608,1612.8 610.8,1615.4 614.4,1620.1 617.2,1624.9 622,1634.5 625.2,1640.5 630,1648.9 633.2,1654.1 638,1661.2 640.8,1666.4 644.3,1674.8 647.1,1681.2 651.9,1691.9 655.1,1698.7 659.9,1708.3 663.1,1714.7 667.9,1724.2 671.1,1729.8 675.9,1737 679.1,1741.8 683.8,1749 687,1752.6 691.8,1756.2 695.2,1758.2 700.6,1760.6 705,1760.8 712.7,1759 717.1,1757.4 722.5,1754.4 726.1,1750.6 731.5,1742.2 735.6,1736.7 742.7,1728.7 747.4,1723.5 754.8,1716 759.6,1710.3 766.8,1700.7 771.2,1695.1 777.2,1688 781.2,1683.6 787.1,1677.6 791.1,1673.6 797.1,1667.6 801.1,1666 807.1,1667.2 810.7,1667 815.4,1665.2 818.3,1666 822.2,1670.2 825.2,1672.4 830.2,1674.8 833.5,1678 838.3,1685.2 841.9,1689.2 847.9,1693.9 851.5,1697.5 856.2,1703.5 859,1707.9 862.6,1715.1 865.4,1719.1 870.2,1723.8 873.4,1728.2 878.2,1736.6 881.8,1740.4 887.7,1743.4 892.1,1745.8 899.3,1750 904.3,1752.4 912.1,1755.4 917.3,1755.4 925,1752.4 930,1750.2 937.2,1746.6 941.6,1744.2 947.6,1740.6 951.6,1737 957.6,1729.8 961.6,1725.8 967.5,1721.1 972.3,1716.7 980.7,1708.3 985.9,1703.9 993.1,1699.1 998.3,1696.3 1006.6,1692.7 1011.4,1690.7 1017.4,1688.4 1021,1688.4 1025.8,1690.7 1029,1691.1 1033.7,1690 1037.1,1689.6 1042.5,1689.6 1045.7,1691.6 1049.9,1697.5 1052.9,1701.1 1057.7,1705.9 1061.7,1708.7 1068.8,1712.3 1072.8,1716.3 1077.6,1724.6 1081.6,1728.6 1088.8,1732.2 1093.2,1734.6 1099.2,1738.2 1104,1740.8 1112.3,1745 1117.5,1746 1124.7,1744.8 1129.3,1744.2 1135.8,1743.6 1140,1744.2 1145.9,1746.6 1150.3,1746.4 1157.5,1743.4 1162.3,1741 1169.5,1736.8 1173.9,1733 1179.8,1725.9 1183.8,1721.9 1189.8,1717.1 1193.8,1714.7 1199.8,1712.3 1203.8,1709.9 1209.7,1705.1 1213.7,1704.3 1219.7,1706.7 1223.7,1707.1 1229.7,1705.9 1233.7,1707.1 1239.7,1711.9 1243.7,1714.3 1249.6,1716.7 1254,1719.1 1261.2,1723.8 1266.4,1726.2 1274.8,1728.6 1280,1731.8 1287.1,1739 1291.9,1742.2 1299.1,1744.6 1303.5,1747 1309.5,1751.8 1313.5,1753.6 1319.4,1754.2 1323.4,1755.6 1329.4,1759.2 1333,1759.6 1337.8,1757.2 1341.8,1756.2 1348.9,1755.6 1355.7,1754.6 1368.9,1752.2 1375.3,1749.6 1381.3,1744.2 1385.7,1740.2 1392.8,1733.6 1397.2,1730.2 1403.2,1726.6 1407.2,1725.6 1413.2,1726.2 1416.5,1725.1 1420.2,1721.3 1424.7,1719.9 1434.3,1719.6 1439.5,1720.3 1445.5,1722.7 1449.9,1722.9 1457,1721.1 1461.5,1721.9 1467.7,1726 1471.8,1728.2 1477.8,1730.6 1481.8,1732.6 1487.7,1736.2 1491.7,1738 1497.7,1739.8 1502.1,1740.2 1509.3,1739.6 1514.1,1740.6 1521.3,1744.2 1526.9,1744.8 1536.4,1743 1542.4,1743.2 1550.8,1745.6 1556,1745.4 1563.1,1742.4 1567.5,1740.2 1573.5,1736.6 1578.3,1734.6 1586.7,1732.2 1591.5,1731 1597.4,1729.8 1601.4,1729.2 1607.4,1728.6 1612.2,1727.2 1620.6,1723.7 1625.8,1722.9 1632.9,1724.1 1636.9,1725.5 1641.7,1728.4 1645.3,1729.4 1651.3,1729.4 1654.9,1730.6 1659.7,1734.2 1664.1,1736.8 1672.4,1741 1678,1742.8 1686.4,1744 1691.4,1745.1 1697.8,1747.3 1701.6,1747.8 1706.4,1747.4 1709.7,1747.4 1714.6,1748.2 1716.3,1748.4" fill="none" stroke="#0000ff" stroke-width="11" stroke-linejoin="round" stroke-linecap="round"/>
<polyline points="171,1648.8 181.9,1608.7 187.3,1568.4 187.3,1541.5 197.9,1508 214.2,1501.6 225.2,1534.9 235.8,1581.8 241.2,1621.7 257.5,1668.8 268.3,1722.2 279.1,1755.7 284.7,1782.6 295.2,1803.2 306.6,1803.2 327.5,1776 332.9,1742.3 338.3,1709.2 349.1,1675.5 360,1648.8 370.8,1608.7 381.8,1575 397.7,1541.5 413.9,1534.9 424.9,1548.5 441.2,1575 446.6,1608.7 457.6,1648.8 468.3,1675.5 479.1,1715.4 489.7,1749.1 506,1755.7 527.5,1742.4 543.8,1728.8 554.6,1702.1 565.4,1668.6 576.1,1635.3 592.3,1608.4 613.6,1594.8 635.6,1615.2 646.1,1641.7 656.9,1668.6 667.7,1689 678.6,1715.5 689.8,1735.8 705.8,1749 727.3,1742.4 743.7,1722.5 754.4,1702.1 770.6,1675.6 786.5,1655.2 808.1,1642.1 829.3,1648.7 846.3,1662 857,1675.6 873.2,1702.1 889.2,1728.8 905.3,1749 927,1749 948.6,1735.8 970.1,1708.9 991.9,1695.5 1018.8,1682 1040.3,1675.6 1067.3,1702.1 1094.6,1722.5 1121.1,1735.8 1153.5,1728.8 1175.4,1715.5 1196.8,1695.5 1218.3,1695.5 1245.6,1702.1 1272.6,1722.5 1294.1,1735.8 1315.9,1742.4 1337.4,1742.4 1369.7,1728.8 1396.8,1722.5 1429.1,1722.5 1461.4,1735.8 1488.4,1742.4 1515.3,1749 1547.6,1742.4 1580.1,1735.8 1612.4,1735.8 1639.3,1735.8 1666.7,1749 1693.6,1755.8" fill="none" stroke="#ff0000" stroke-width="3.9" stroke-linejoin="round"/>
<g fill="#ff0000"><circle cx="171" cy="1648.8" r="11.65"/><circle cx="181.9" cy="1608.7" r="11.65"/><circle cx="187.3" cy="1568.4" r="11.65"/><circle cx="187.3" cy="1541.5" r="11.65"/><circle cx="197.9" cy="1508" r="11.65"/><circle cx="214.2" cy="1501.6" r="11.65"/><circle cx="225.2" cy="1534.9" r="11.65"/><circle cx="235.8" cy="1581.8" r="11.65"/><circle cx="241.2" cy="1621.7" r="11.65"/><circle cx="257.5" cy="1668.8" r="11.65"/><circle cx="268.3" cy="1722.2" r="11.65"/><circle cx="279.1" cy="1755.7" r="11.65"/><circle cx="284.7" cy="1782.6" r="11.65"/><circle cx="295.2" cy="1803.2" r="11.65"/><circle cx="306.6" cy="1803.2" r="11.65"/><circle cx="327.5" cy="1776" r="11.65"/><circle cx="332.9" cy="1742.3" r="11.65"/><circle cx="338.3" cy="1709.2" r="11.65"/><circle cx="349.1" cy="1675.5" r="11.65"/><circle cx="360" cy="1648.8" r="11.65"/><circle cx="370.8" cy="1608.7" r="11.65"/><circle cx="381.8" cy="1575" r="11.65"/><circle cx="397.7" cy="1541.5" r="11.65"/><circle cx="413.9" cy="1534.9" r="11.65"/><circle cx="424.9" cy="1548.5" r="11.65"/><circle cx="441.2" cy="1575" r="11.65"/><circle cx="446.6" cy="1608.7" r="11.65"/><circle cx="457.6" cy="1648.8" r="11.65"/><circle cx="468.3" cy="1675.5" r="11.65"/><circle cx="479.1" cy="1715.4" r="11.65"/><circle cx="489.7" cy="1749.1" r="11.65"/><circle cx="506" cy="1755.7" r="11.65"/><circle cx="527.5" cy="1742.4" r="11.65"/><circle cx="543.8" cy="1728.8" r="11.65"/><circle cx="554.6" cy="1702.1" r="11.65"/><circle cx="565.4" cy="1668.6" r="11.65"/><circle cx="576.1" cy="1635.3" r="11.65"/><circle cx="592.3" cy="1608.4" r="11.65"/><circle cx="613.6" cy="1594.8" r="11.65"/><circle cx="635.6" cy="1615.2" r="11.65"/><circle cx="646.1" cy="1641.7" r="11.65"/><circle cx="656.9" cy="1668.6" r="11.65"/><circle cx="667.7" cy="1689" r="11.65"/><circle cx="678.6" cy="1715.5" r="11.65"/><circle cx="689.8" cy="1735.8" r="11.65"/><circle cx="705.8" cy="1749" r="11.65"/><circle cx="727.3" cy="1742.4" r="11.65"/><circle cx="743.7" cy="1722.5" r="11.65"/><circle cx="754.4" cy="1702.1" r="11.65"/><circle cx="770.6" cy="1675.6" r="11.65"/><circle cx="786.5" cy="1655.2" r="11.65"/><circle cx="808.1" cy="1642.1" r="11.65"/><circle cx="829.3" cy="1648.7" r="11.65"/><circle cx="846.3" cy="1662" r="11.65"/><circle cx="857" cy="1675.6" r="11.65"/><circle cx="873.2" cy="1702.1" r="11.65"/><circle cx="889.2" cy="1728.8" r="11.65"/><circle cx="905.3" cy="1749" r="11.65"/><circle cx="927" cy="1749" r="11.65"/><circle cx="948.6" cy="1735.8" r="11.65"/><circle cx="970.1" cy="1708.9" r="11.65"/><circle cx="991.9" cy="1695.5" r="11.65"/><circle cx="1018.8" cy="1682" r="11.65"/><circle cx="1040.3" cy="1675.6" r="11.65"/><circle cx="1067.3" cy="1702.1" r="11.65"/><circle cx="1094.6" cy="1722.5" r="11.65"/><circle cx="1121.1" cy="1735.8" r="11.65"/><circle cx="1153.5" cy="1728.8" r="11.65"/><circle cx="1175.4" cy="1715.5" r="11.65"/><circle cx="1196.8" cy="1695.5" r="11.65"/><circle cx="1218.3" cy="1695.5" r="11.65"/><circle cx="1245.6" cy="1702.1" r="11.65"/><circle cx="1272.6" cy="1722.5" r="11.65"/><circle cx="1294.1" cy="1735.8" r="11.65"/><circle cx="1315.9" cy="1742.4" r="11.65"/><circle cx="1337.4" cy="1742.4" r="11.65"/><circle cx="1369.7" cy="1728.8" r="11.65"/><circle cx="1396.8" cy="1722.5" r="11.65"/><circle cx="1429.1" cy="1722.5" r="11.65"/><circle cx="1461.4" cy="1735.8" r="11.65"/><circle cx="1488.4" cy="1742.4" r="11.65"/><circle cx="1515.3" cy="1749" r="11.65"/><circle cx="1547.6" cy="1742.4" r="11.65"/><circle cx="1580.1" cy="1735.8" r="11.65"/><circle cx="1612.4" cy="1735.8" r="11.65"/><circle cx="1639.3" cy="1735.8" r="11.65"/><circle cx="1666.7" cy="1749" r="11.65"/><circle cx="1693.6" cy="1755.8" r="11.65"/></g>
</g>
<rect x="987.1" y="218.7" width="659.1" height="140.8" fill="#000"/>
<rect x="966.1" y="197.7" width="659.1" height="140.8" fill="#fff" stroke="#000" stroke-width="1.2"/>
<text class="serif it" font-size="73" fill="#000" transform="translate(1070.5,287.5) skewX(-12)">ϕ</text>
<text class="sans" x="1106.5" y="312.1" font-size="56" fill="#000">Ga</text>
<text class="serif" x="1179.8" y="287.5" font-size="79" fill="#000">/</text>
<text class="serif it" font-size="73" fill="#000" transform="translate(1203.3,287.5) skewX(-12)">ϕ</text>
<text class="sans" x="1239" y="312.1" font-size="56" fill="#000">N</text>
<text class="serif" x="1299" y="295.9" font-size="82" fill="#000">=</text>
<text class="sans" x="1365.3" y="287.5" font-size="81.5" fill="#000">0.89</text>
<rect x="976.2" y="856.5" width="668.2" height="141" fill="#000"/>
<rect x="955.2" y="835.5" width="668.2" height="141" fill="#fff" stroke="#000" stroke-width="1.2"/>
<text class="serif it" font-size="73" fill="#000" transform="translate(1063.8,925.3) skewX(-12)">ϕ</text>
<text class="sans" x="1099.8" y="949.9" font-size="56" fill="#000">Ga</text>
<text class="serif" x="1173.1" y="925.3" font-size="79" fill="#000">/</text>
<text class="serif it" font-size="73" fill="#000" transform="translate(1196.6,925.3) skewX(-12)">ϕ</text>
<text class="sans" x="1232.3" y="949.9" font-size="56" fill="#000">N</text>
<text class="serif" x="1292.3" y="933.7" font-size="82" fill="#000">=</text>
<text class="sans" x="1358.6" y="925.3" font-size="81.5" fill="#000">0.82</text>
<rect x="974" y="1476.5" width="668.4" height="141.4" fill="#000"/>
<rect x="953" y="1455.5" width="668.4" height="141.4" fill="#fff" stroke="#000" stroke-width="1.2"/>
<text class="serif it" font-size="73" fill="#000" transform="translate(1061.8,1545.9) skewX(-12)">ϕ</text>
<text class="sans" x="1097.8" y="1570.5" font-size="56" fill="#000">Ga</text>
<text class="serif" x="1171.1" y="1545.9" font-size="79" fill="#000">/</text>
<text class="serif it" font-size="73" fill="#000" transform="translate(1194.6,1545.9) skewX(-12)">ϕ</text>
<text class="sans" x="1230.3" y="1570.5" font-size="56" fill="#000">N</text>
<text class="serif" x="1290.3" y="1554.3" font-size="82" fill="#000">=</text>
<text class="sans" x="1356.6" y="1545.9" font-size="81.5" fill="#000">0.68</text>
<line x1="321.8" y1="100" x2="511.8" y2="100" stroke="#ff0000" stroke-width="3.9" stroke-linecap="round"/>
<circle cx="417" cy="100" r="11.65" fill="#ff0000"/>
<line x1="325.7" y1="186.5" x2="515.8" y2="186.5" stroke="#0000ff" stroke-width="11" stroke-linecap="round"/>
<text class="sans" x="533.2" y="126.2" font-size="74.8" fill="#000">RHEED intensity</text>
<text class="sans" x="538.6" y="212.3" font-size="74.8" fill="#000" clip-path="url(#k1)">1</text>
<text class="serif" x="599.5" y="212.3" font-size="70" fill="#000">–</text>
<text class="sans it" x="660" y="212.3" font-size="74.5" fill="#000">S</text>
<text class="sans it" x="708.5" y="234.6" font-size="52" fill="#000">d</text>
<g stroke="#000" stroke-width="5.3" fill="none" stroke-linecap="butt">
<rect x="171.2" y="19" width="1554.8" height="2012.2"/>
<line x1="171.2" y1="690" x2="1726" y2="690"/>
<line x1="171.2" y1="1360.4" x2="1726" y2="1360.4"/>
<path stroke-width="4.9" d="M171.2 19v28M171.2 662v56M171.2 1332.4v56M171.2 2031.2v-28M268.4 19v14M268.4 676v28M268.4 1346.4v28M268.4 2031.2v-14M365.6 19v28M365.6 662v56M365.6 1332.4v56M365.6 2031.2v-28M462.8 19v14M462.8 676v28M462.8 1346.4v28M462.8 2031.2v-14M559.9 19v28M559.9 662v56M559.9 1332.4v56M559.9 2031.2v-28M657.1 19v14M657.1 676v28M657.1 1346.4v28M657.1 2031.2v-14M754.3 19v28M754.3 662v56M754.3 1332.4v56M754.3 2031.2v-28M851.5 19v14M851.5 676v28M851.5 1346.4v28M851.5 2031.2v-14M948.6 19v28M948.6 662v56M948.6 1332.4v56M948.6 2031.2v-28M1045.8 19v14M1045.8 676v28M1045.8 1346.4v28M1045.8 2031.2v-14M1143 19v28M1143 662v56M1143 1332.4v56M1143 2031.2v-28M1240.1 19v14M1240.1 676v28M1240.1 1346.4v28M1240.1 2031.2v-14M1337.3 19v28M1337.3 662v56M1337.3 1332.4v56M1337.3 2031.2v-28M1434.5 19v14M1434.5 676v28M1434.5 1346.4v28M1434.5 2031.2v-14M1531.7 19v28M1531.7 662v56M1531.7 1332.4v56M1531.7 2031.2v-28M1628.8 19v14M1628.8 676v28M1628.8 1346.4v28M1628.8 2031.2v-14M1726 19v28M1726 662v56M1726 1332.4v56M1726 2031.2v-28M171.2 130.7h28M1726 130.7h-28M171.2 242.5h14M1726 242.5h-14M171.2 354.4h28M1726 354.4h-28M171.2 466.3h14M1726 466.3h-14M171.2 578.2h28M1726 578.2h-28M171.2 857.5h14M1726 857.5h-14M171.2 1025h28M1726 1025h-28M171.2 1192.6h14M1726 1192.6h-14M171.2 1527.9h14M1726 1527.9h-14M171.2 1695.5h28M1726 1695.5h-28M171.2 1863.3h14M1726 1863.3h-14"/>
</g>
<g class="serif" font-size="71" fill="#000" text-anchor="middle">
<text x="171.8" y="2116.6">0</text>
<text x="366.1" y="2116.6">5</text>
<text x="560.4" y="2116.6">10</text>
<text x="754.8" y="2116.6">15</text>
<text x="949.1" y="2116.6">20</text>
<text x="1143.5" y="2116.6">25</text>
<text x="1337.8" y="2116.6">30</text>
<text x="1532.2" y="2116.6">35</text>
<text x="1726.5" y="2116.6">40</text>
</g>
<text class="sans" x="949.5" y="2240.6" font-size="82.5" fill="#000" text-anchor="middle">Time (s)</text>
<text class="sans" font-size="81.3" fill="#000" text-anchor="middle" transform="translate(74.3,986.3) rotate(-90)">RHEED intensity (arb.unts)</text>
<g transform="translate(1858.6,1355) rotate(-90)" fill="#000" class="sans" font-size="81.5"><text x="5.2" y="0" clip-path="url(#k2)">1</text><text class="serif" x="73" y="-1.6" font-size="73">–</text><text class="sans it" x="136.5" y="0">S</text><text class="sans it" x="188.5" y="24.8" font-size="56">d</text><text x="240.7" y="0">(arb.unts)</text></g>
</svg></body></html>
